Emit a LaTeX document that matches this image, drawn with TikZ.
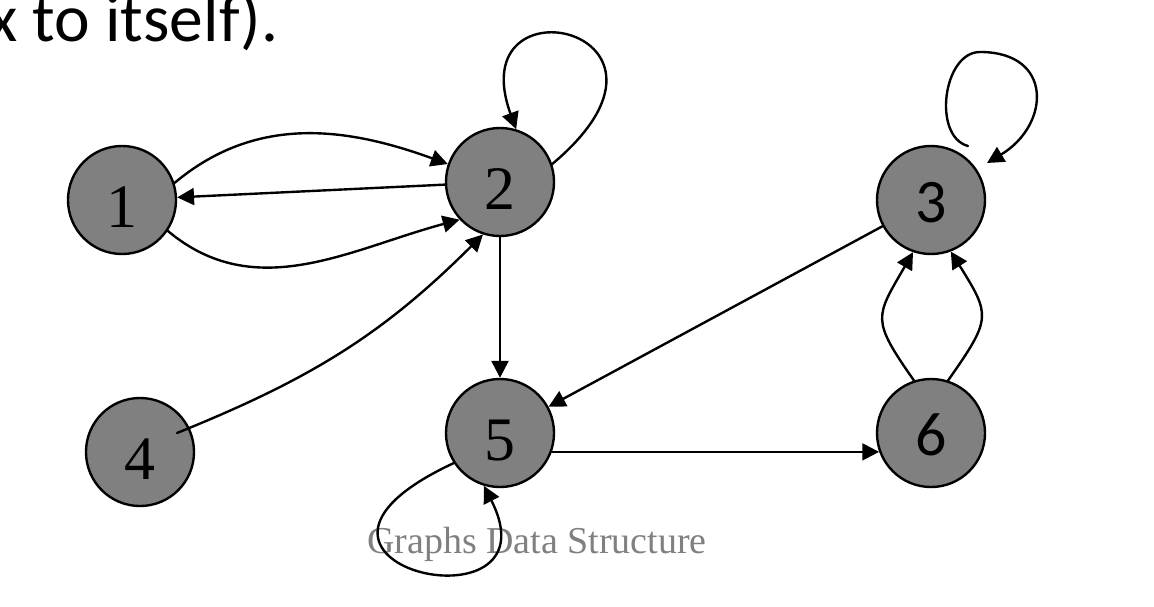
\documentclass[tikz,border=0pt]{standalone}
\usepackage{fontspec}
\setmainfont{Liberation Serif}
\newfontfamily\calibri{Carlito}
\usetikzlibrary{arrows.meta}
\begin{document}
\begin{tikzpicture}[line join=round,line cap=round,>={Triangle[length=12pt,width=12pt]},x=0.025cm,y=0.025cm,
vtx/.style={circle,draw,fill=gray,line width=1.7pt,minimum size=2.7cm,inner sep=0pt,text height=39pt,font=\fontsize{44}{44}\selectfont},
arc/.style={->,line width=1.7pt}]
\useasboundingbox (0,0) rectangle (1154,-606);
\node[anchor=base west,inner sep=0pt,font=\calibri\fontsize{48}{48}\selectfont] (title) at (-12,-41) {x to itself).};
\node[anchor=base west,inner sep=0pt,text=gray,font=\fontsize{27}{27}\selectfont] (foot) at (367,-553) {Graphs Data Structure};
\foreach \n/\x/\y in {1/122/200,2/500/182,4/140/452,5/500/433}
  \node[vtx] (\n) at (\x,-\y) {\n};
\foreach \n/\x/\y in {3/931/200,6/931/433}
  \node[vtx,text height=33pt,font=\calibri\fontsize{44}{44}\selectfont] (\n) at (\x,-\y) {\n};
% edges
\draw[arc] (1.18) to[out=40,in=160] (2.161);
\draw[arc] (2) -- (1);
\draw[arc] (1.-34) to[out=-40,in=195] (2.-137);
\draw[arc] ([shift={(37,19)}]4.center) to[out=22,in=225] (2.-108);
\draw[arc] (2) -- (5);
\draw[arc] (3) -- (5);
\draw[arc] (5.-20) -- (6.-160);
\draw[arc] (6.108) to[out=125,in=-120,looseness=1.5] (3.-109);
\draw[arc] (6.72) to[out=55,in=-58,looseness=1.5] (3.-69);
% loops
\draw[arc] (2.19) .. controls +(40:210) and +(110:165) .. (2.73);
\draw[arc] (5.-147) .. controls +(205:240) and +(-63:170) .. (5.-107);
\draw[arc] ([shift={(37,54)}]3.center) to[out=165,in=180] ++(12,94) to[out=0,in=31,looseness=1.7] ([shift={(56,37)}]3.center);
\end{tikzpicture}
\end{document}
